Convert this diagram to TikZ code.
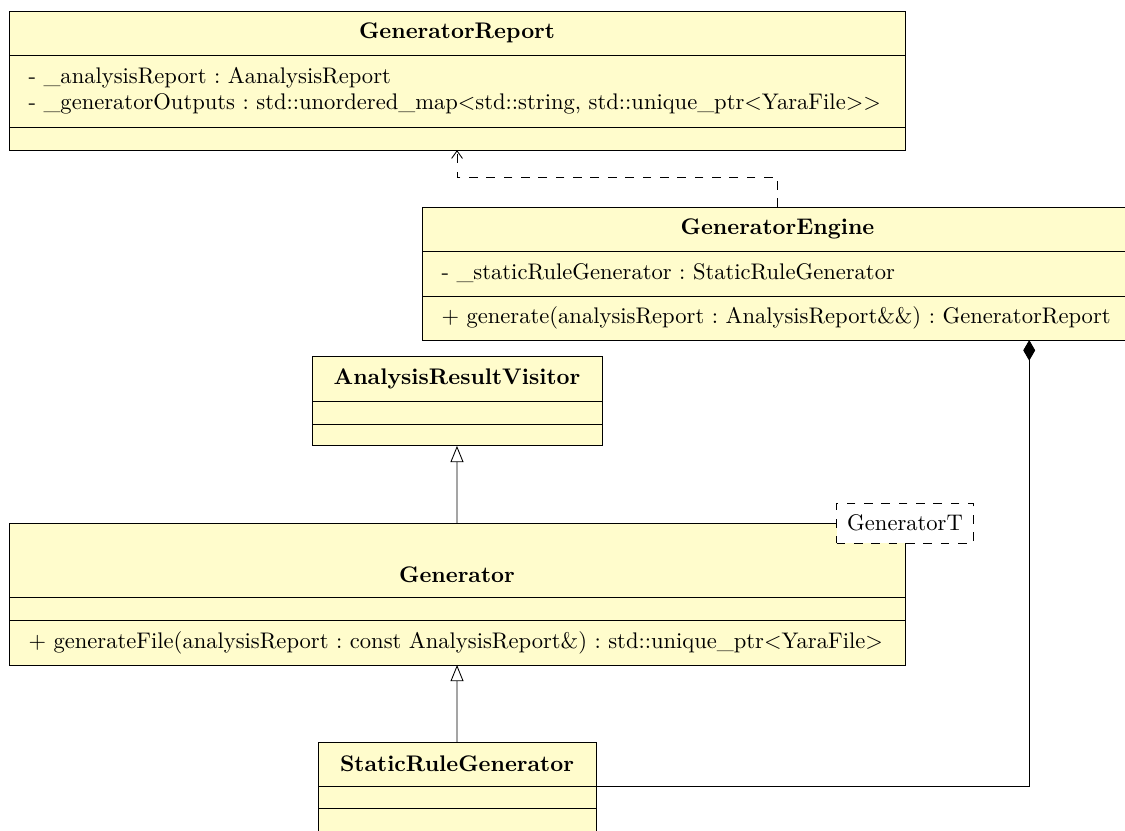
\documentclass[tikz,border=0pt]{standalone}
\usepackage{fontspec}
\usetikzlibrary{arrows.meta}
\usetikzlibrary{positioning}
\frenchspacing
\tikzset{classname/.style = {draw, fill=yellow!20, outer sep = 0, inner sep = 0, font=\bfseries}}
\tikzset{classpart/.style = {draw, fill=yellow!20, outer sep = 0, inner xsep = 9pt, inner ysep = 0, align=left}}
\tikzset{template/.style = {draw, dash pattern=on 4pt off 4pt, fill=white, inner sep = 0, minimum width = 63.1pt, minimum height = 18.4pt}}
\tikzset{depend/.style = {dash pattern=on 4pt off 4pt, -{Straight Barb[length=3.5pt, width=5pt]}}}
\tikzset{inherit/.style = {-{Triangle[open, length=7.5pt, width=6pt]}}}
\tikzset{compose/.style = {{Diamond[length=9.5pt, width=5.5pt]}-}}

\begin{document}
\fontsize{10.4pt}{12pt}\selectfont
\begin{tikzpicture}[x=0.4608pt, y=-0.4608pt]
      \useasboundingbox (0, 0) rectangle (1125, 830);
      % report
      \node [classname, anchor=north west, minimum width = 412.9pt, minimum height = 20.3pt] (report) at (9, 11) {GeneratorReport};
      \node [classpart, text width = 394.9pt, minimum height = 33.2pt, below=0pt of report] (report-attr)
        {- \_analysisReport : AanalysisReport\\
         - \_generatorOutputs : std::unordered\_map<std::string, std::unique\_ptr<YaraFile>{}>};
      \node [classpart, minimum width = 412.9pt, minimum height = 10.6pt, below=0pt of report-attr] (report-ops) {};
      % engine
      \node [classname, anchor=north west, minimum width = 327.6pt, minimum height = 20.3pt] (engine) at (422, 207) {GeneratorEngine};
      \node [classpart, text width = 309.6pt, minimum height = 20.7pt, below=0pt of engine] (engine-attr)
        {- \_staticRuleGenerator : StaticRuleGenerator};
      \node [classpart, text width = 309.6pt, minimum height = 20.3pt, below=0pt of engine-attr] (engine-ops)
        {+ generate(analysisReport : AnalysisReport\&\&) : GeneratorReport};
      % visitor
      \node [classname, anchor=north west, minimum width = 133.6pt, minimum height = 20.7pt] (visitor) at (312, 356) {AnalysisResultVisitor};
      \node [classpart, minimum width = 133.6pt, minimum height = 10.6pt, below=0pt of visitor] (visitor-attr) {};
      \node [classpart, minimum width = 133.6pt, minimum height = 10.1pt, below=0pt of visitor-attr] (visitor-ops) {};
      % generator
      \node [classname, anchor=north west, minimum width = 412.9pt, minimum height = 34.1pt, text height = 20.7pt] (generator) at (9, 523) {Generator};
      \node [classpart, minimum width = 412.9pt, minimum height = 10.6pt, below=0pt of generator] (generator-attr) {};
      \node [classpart, text width = 394.9pt, minimum height = 20.7pt, below=0pt of generator-attr] (generator-ops)
        {+ generateFile(analysisReport : const AnalysisReport\&) : std::unique\_ptr<YaraFile>};
      \node [template] (generator-tpl) at (generator.north east) {GeneratorT};
      % static rules
      \node [classname, anchor=north west, minimum width = 128.1pt, minimum height = 20.3pt] (static) at (318, 742) {StaticRuleGenerator};
      \node [classpart, minimum width = 128.1pt, minimum height = 10.1pt, below=0pt of static] (static-attr) {};
      \node [classpart, minimum width = 128.1pt, minimum height = 10.6pt, below=0pt of static-attr] (static-ops) {};

      \draw [depend] (engine.north) -- ++(0, -30) -| (report-ops.south);
      \draw [inherit] (generator.north) -- (visitor-ops.south);
      \draw [inherit] (static.north) -- (generator-ops.south);
      \draw [compose] ([xshift = 116pt]engine-ops.south) |- (static.south east);
    \end{tikzpicture}
\end{document}
